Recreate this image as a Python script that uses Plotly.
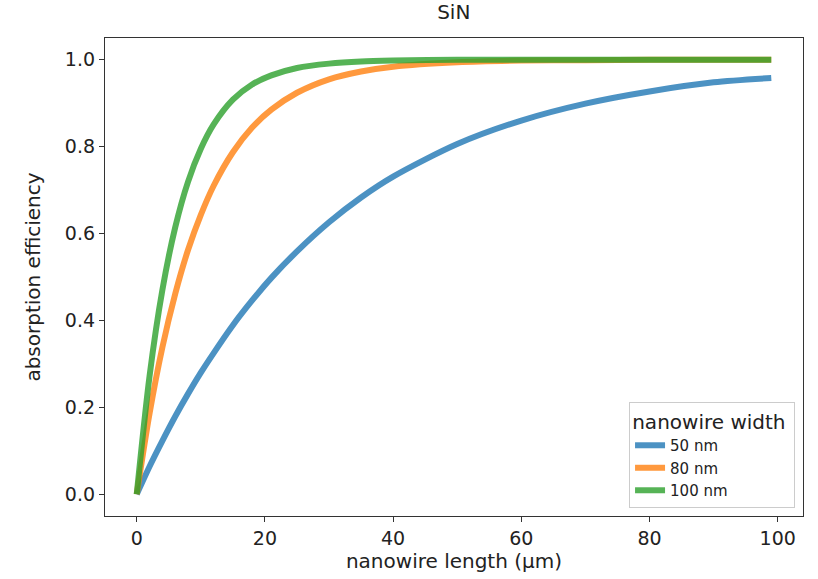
import plotly.graph_objects as go

# nanowire length (µm) sample positions
length_um = [0, 2, 4, 6, 8, 10, 12, 15, 18, 21, 25, 30, 35, 40, 50, 60, 70, 80, 90, 99]

# absorption efficiency
eff_50nm = [0.0, 0.064, 0.123, 0.179, 0.231, 0.280, 0.325, 0.389, 0.446, 0.498,
            0.559, 0.626, 0.683, 0.731, 0.806, 0.860, 0.899, 0.927, 0.948, 0.958]
eff_80nm = [0.0, 0.186, 0.338, 0.461, 0.562, 0.643, 0.710, 0.787, 0.844, 0.885,
            0.924, 0.955, 0.973, 0.984, 0.994, 0.998, 0.999, 1.0, 1.0, 1.0]
eff_100nm = [0.0, 0.272, 0.470, 0.614, 0.719, 0.795, 0.851, 0.908, 0.943, 0.964,
             0.981, 0.991, 0.996, 0.998, 1.0, 1.0, 1.0, 1.0, 1.0, 1.0]

series_names = ["50 nm", "80 nm", "100 nm"]
series_values = [eff_50nm, eff_80nm, eff_100nm]
series_colors = ["rgba(31,119,180,0.8)", "rgba(255,127,14,0.8)", "rgba(44,160,44,0.8)"]

x_ticks = [0, 20, 40, 60, 80, 100]
y_ticks = [0.0, 0.2, 0.4, 0.6, 0.8, 1.0]

FONT = "DejaVu Sans"
AX = "#333333"

fig = go.Figure()
for name, vals, col in zip(series_names, series_values, series_colors):
    fig.add_trace(go.Scatter(
        x=length_um, y=vals, name=name, mode="lines",
        line=dict(color=col, width=6, shape="spline", smoothing=0.8),
    ))

axis_common = dict(
    showgrid=False, zeroline=False, showline=True, linecolor=AX, linewidth=1.3,
    mirror=True, ticks="outside", ticklen=5, tickwidth=1.2, tickcolor=AX,
    tickfont=dict(family=FONT, size=19, color="#222"), automargin=False,
)

fig.update_layout(
    width=818, height=579,
    margin=dict(l=104.5, r=15, t=38, b=63, autoexpand=False),
    paper_bgcolor="white", plot_bgcolor="white",
    font=dict(family=FONT, color="#222"),
    title=dict(text="SiN", x=(104.5 + 803) / 2 / 818, xanchor="center",
               y=1 - 12 / 579, yanchor="middle",
               font=dict(family=FONT, size=20, color="#222")),
    xaxis=dict(range=[-4.95, 103.95], tickvals=x_ticks,
               ticktext=[str(v) for v in x_ticks],
               title=dict(text="nanowire length (µm)", font=dict(family=FONT, size=20),
                          standoff=5),
               **axis_common),
    yaxis=dict(range=[-0.05, 1.05], tickvals=y_ticks,
               ticktext=[f"{v:.1f}" for v in y_ticks],
               title=dict(text="absorption efficiency", font=dict(family=FONT, size=20),
                          standoff=18),
               **axis_common),
    legend=dict(
        x=0.9886, y=0.0167, xanchor="right", yanchor="bottom",
        bgcolor="rgba(255,255,255,0.8)", bordercolor="#cccccc", borderwidth=1,
        font=dict(family=FONT, size=15, color="#222"),
        title=dict(text="nanowire width ", side="top center",
                   font=dict(family=FONT, size=20, color="#222")),
        tracegroupgap=0, itemwidth=30,
    ),
    showlegend=True,
)

fig.write_html("out.html", config={"displayModeBar": False},
               post_script="document.body.style.margin='0';")
